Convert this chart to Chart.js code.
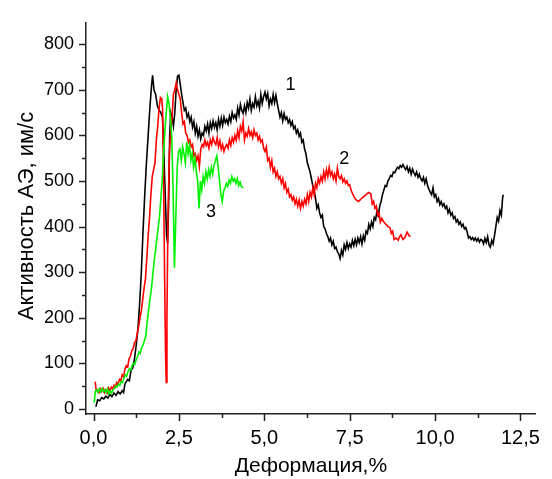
<!DOCTYPE html>
<html>
<head>
<meta charset="utf-8">
<script src="https://cdn.jsdelivr.net/npm/chart.js@4/dist/chart.umd.min.js"></script>
<style>
html,body{margin:0;padding:0;background:#fff;}
#wrap{width:552px;height:479px;position:relative;}
</style>
</head>
<body>
<div id="wrap"><canvas id="c" width="552" height="479"></canvas></div>
<script>
// ---- Data ----
const xMajorTicks = [0, 2.5, 5, 7.5, 10, 12.5];
const xMinorTicks = [1.25, 3.75, 6.25, 8.75, 11.25];
const yMajorTicks = [0, 100, 200, 300, 400, 500, 600, 700, 800];
const yMinorTicks = [50, 150, 250, 350, 450, 550, 650, 750];

const xTitle = 'Деформация,%';
const yTitle = 'Активность АЭ, им/с';

const curveLabels = ["1", "2", "3"];
const curveLabelX = [5.77, 7.34, 3.44];
const curveLabelY = [710, 548, 432];

// Curve 1 (black)
const blackX = [0.07,0.12,0.18,0.24,0.30,0.36,0.42,0.48,0.54,0.60,0.66,0.72,0.78,0.84,0.88,0.92,0.96,1.00,1.05,1.10,1.15,1.20,1.25,1.30,1.35,1.40,1.45,1.50,1.55,1.60,1.65,1.70,1.73,1.77,1.82,1.87,1.92,1.97,2.02,2.06,2.10,2.14,2.17,2.20,2.23,2.26,2.30,2.34,2.38,2.42,2.46,2.50,2.54,2.58,2.62,2.66,2.70,2.74,2.78,2.82,2.86,2.90,2.94,2.98,3.02,3.06,3.10,3.14,3.18,3.22,3.26,3.30,3.34,3.38,3.42,3.46,3.50,3.54,3.58,3.62,3.66,3.70,3.74,3.78,3.82,3.86,3.90,3.94,3.98,4.02,4.06,4.10,4.14,4.18,4.22,4.26,4.30,4.34,4.38,4.42,4.46,4.50,4.54,4.58,4.62,4.66,4.70,4.74,4.78,4.82,4.86,4.90,4.94,4.98,5.02,5.06,5.10,5.14,5.18,5.22,5.26,5.30,5.34,5.38,5.42,5.46,5.50,5.54,5.58,5.62,5.66,5.70,5.74,5.78,5.82,5.86,5.90,5.94,5.98,6.02,6.06,6.10,6.14,6.18,6.22,6.26,6.30,6.34,6.38,6.42,6.46,6.50,6.54,6.58,6.62,6.66,6.70,6.74,6.78,6.82,6.86,6.90,6.94,6.98,7.02,7.06,7.10,7.14,7.18,7.22,7.26,7.30,7.34,7.38,7.42,7.46,7.50,7.54,7.58,7.62,7.66,7.70,7.74,7.78,7.82,7.86,7.90,7.94,7.98,8.02,8.06,8.10,8.14,8.18,8.22,8.26,8.30,8.34,8.38,8.42,8.46,8.50,8.54,8.58,8.62,8.66,8.70,8.74,8.78,8.82,8.86,8.90,8.94,8.98,9.02,9.06,9.10,9.14,9.18,9.22,9.26,9.30,9.34,9.38,9.42,9.46,9.50,9.54,9.58,9.62,9.66,9.70,9.74,9.78,9.82,9.86,9.90,9.94,9.98,10.02,10.06,10.10,10.14,10.18,10.22,10.26,10.30,10.34,10.38,10.42,10.46,10.50,10.54,10.58,10.62,10.66,10.70,10.74,10.78,10.82,10.86,10.90,10.94,10.98,11.02,11.06,11.10,11.14,11.18,11.22,11.26,11.30,11.34,11.38,11.42,11.46,11.50,11.54,11.58,11.62,11.66,11.70,11.74,11.78,11.82,11.86,11.90,11.94,11.98,12.00];
const blackY = [5,20,18,25,22,28,24,32,27,35,30,38,33,40,36,55,60,65,62,85,90,110,140,175,230,300,390,470,540,600,660,710,732,700,690,665,655,650,640,560,470,380,363,450,600,650,640,620,650,700,730,732,712,690,672,655,660,640,648,630,640,618,630,605,620,598,612,592,605,600,620,610,625,605,628,615,632,618,628,612,635,620,638,622,640,628,635,625,642,630,650,638,645,635,660,645,668,655,648,665,650,672,660,680,655,670,662,685,665,675,660,690,670,685,695,680,692,665,680,670,690,672,688,670,655,640,650,632,648,635,640,628,635,622,630,615,620,605,612,598,605,585,590,570,560,540,530,520,505,490,480,462,440,448,430,420,425,400,395,385,378,368,375,360,368,352,355,345,340,330,348,338,360,350,365,352,362,355,370,358,372,360,375,365,378,362,380,370,390,385,405,395,410,400,420,415,435,425,445,455,470,480,490,488,500,505,512,510,520,518,525,530,527,534,530,536,530,525,532,520,528,515,526,518,512,520,508,515,505,500,508,495,505,490,482,475,470,485,465,470,455,462,448,455,445,450,440,445,430,438,425,430,418,422,410,415,405,410,400,405,395,398,388,375,378,372,376,370,375,368,374,366,372,370,362,374,365,378,360,355,370,362,380,400,420,412,435,425,465,470];

// Curve 2 (red)
const redX = [0.05,0.08,0.12,0.16,0.20,0.24,0.28,0.32,0.36,0.40,0.44,0.48,0.52,0.56,0.60,0.64,0.68,0.72,0.76,0.80,0.84,0.88,0.92,0.96,1.00,1.04,1.08,1.12,1.16,1.20,1.24,1.28,1.32,1.36,1.40,1.44,1.48,1.52,1.56,1.60,1.64,1.68,1.72,1.76,1.80,1.84,1.88,1.92,1.96,2.00,2.02,2.05,2.08,2.11,2.13,2.15,2.18,2.22,2.26,2.30,2.34,2.38,2.42,2.46,2.50,2.54,2.58,2.62,2.66,2.70,2.74,2.78,2.82,2.86,2.90,2.94,2.98,3.02,3.06,3.10,3.14,3.18,3.22,3.26,3.30,3.34,3.38,3.42,3.46,3.50,3.54,3.58,3.62,3.66,3.70,3.74,3.78,3.82,3.86,3.90,3.94,3.98,4.02,4.06,4.10,4.14,4.18,4.22,4.26,4.30,4.34,4.38,4.42,4.46,4.50,4.54,4.58,4.62,4.66,4.70,4.74,4.78,4.82,4.86,4.90,4.94,4.98,5.02,5.06,5.10,5.14,5.18,5.22,5.26,5.30,5.34,5.38,5.42,5.46,5.50,5.54,5.58,5.62,5.66,5.70,5.74,5.78,5.82,5.86,5.90,5.94,5.98,6.02,6.06,6.10,6.14,6.18,6.22,6.26,6.30,6.34,6.38,6.42,6.46,6.50,6.54,6.58,6.62,6.66,6.70,6.74,6.78,6.82,6.86,6.90,6.94,6.98,7.02,7.06,7.10,7.14,7.18,7.22,7.26,7.30,7.34,7.38,7.42,7.46,7.50,7.55,7.60,7.65,7.70,7.76,7.85,7.95,8.05,8.12,8.16,8.20,8.24,8.28,8.32,8.36,8.40,8.44,8.50,8.56,8.62,8.68,8.72,8.76,8.80,8.86,8.92,8.96,9.00,9.06,9.12,9.18,9.24,9.28];
const redY = [60,40,42,36,44,38,45,36,42,35,46,40,48,44,52,48,58,55,65,62,75,70,88,95,92,110,115,128,132,145,150,165,180,200,215,240,265,285,330,380,420,470,510,525,540,590,620,660,683,680,660,520,300,120,58,200,420,560,610,640,690,700,715,700,690,680,650,625,630,605,600,585,590,575,580,555,560,545,555,532,570,580,575,590,578,585,572,590,580,595,585,580,595,575,588,570,580,565,575,580,572,590,578,595,585,600,590,610,595,620,610,630,590,605,598,615,600,608,595,612,600,605,590,598,585,590,572,565,575,545,550,530,545,520,528,510,520,505,510,495,505,485,495,475,482,465,470,458,465,450,460,445,458,440,455,445,460,450,470,455,475,465,485,470,495,485,505,495,510,500,520,505,525,510,530,512,520,505,515,500,528,510,505,512,498,505,495,500,490,492,478,470,462,458,455,462,468,475,472,450,455,440,445,425,430,410,418,410,405,400,398,385,390,372,375,370,378,382,372,376,388,380,378];

// Curve 3 (green)
const greenX = [0.02,0.05,0.09,0.13,0.17,0.21,0.25,0.29,0.33,0.37,0.41,0.45,0.49,0.53,0.57,0.61,0.65,0.69,0.73,0.77,0.81,0.85,0.89,0.93,0.97,1.01,1.05,1.09,1.13,1.17,1.21,1.25,1.29,1.33,1.37,1.41,1.45,1.49,1.53,1.57,1.61,1.65,1.69,1.73,1.77,1.81,1.85,1.89,1.93,1.97,2.01,2.05,2.09,2.13,2.17,2.21,2.25,2.29,2.33,2.37,2.41,2.45,2.49,2.53,2.57,2.61,2.65,2.69,2.73,2.77,2.81,2.85,2.89,2.93,2.97,3.01,3.05,3.09,3.13,3.17,3.21,3.25,3.29,3.33,3.37,3.41,3.45,3.49,3.53,3.57,3.61,3.65,3.69,3.73,3.77,3.81,3.85,3.89,3.93,3.97,4.01,4.05,4.09,4.13,4.17,4.21,4.25,4.29,4.33,4.38];
const greenY = [14,38,42,36,44,38,45,38,42,36,44,33,40,35,42,45,50,48,55,52,60,58,68,75,72,82,88,85,95,100,98,108,115,125,122,135,140,150,160,190,215,240,260,290,320,345,370,395,420,460,500,560,610,650,685,670,640,600,480,310,420,530,565,570,545,575,560,540,585,560,578,545,560,530,550,520,500,440,500,480,510,495,520,505,525,510,530,515,535,545,555,530,500,470,455,478,485,495,488,502,495,510,500,505,495,505,490,498,488,485];

const toPts = (xs, ys) => xs.map((x, i) => ({x: x, y: ys[i]}));

const FONT = "'Liberation Sans', Arial, sans-serif";
const AXIS_COLOR = '#222';

const ticksPlugin = {
  id: 'customTicks',
  afterDraw(chart) {
    const ctx = chart.ctx;
    const xs = chart.scales.x, ys = chart.scales.y;
    const area = chart.chartArea;
    ctx.save();
    ctx.strokeStyle = AXIS_COLOR;
    ctx.lineWidth = 1.5;
    ctx.beginPath();
    xMajorTicks.forEach(v => { const p = Math.round(xs.getPixelForValue(v)) + 0.5; ctx.moveTo(p, area.bottom); ctx.lineTo(p, area.bottom + 7); });
    xMinorTicks.forEach(v => { const p = Math.round(xs.getPixelForValue(v)) + 0.5; ctx.moveTo(p, area.bottom); ctx.lineTo(p, area.bottom + 4); });
    yMajorTicks.forEach(v => { const p = Math.round(ys.getPixelForValue(v)) + 0.5; ctx.moveTo(area.left, p); ctx.lineTo(area.left - 7, p); });
    yMinorTicks.forEach(v => { const p = Math.round(ys.getPixelForValue(v)) + 0.5; ctx.moveTo(area.left, p); ctx.lineTo(area.left - 4, p); });
    ctx.stroke();
    // curve labels
    ctx.fillStyle = '#000';
    ctx.font = '18px ' + FONT;
    ctx.textAlign = 'center';
    ctx.textBaseline = 'middle';
    curveLabels.forEach((t, i) => {
      ctx.fillText(t, xs.getPixelForValue(curveLabelX[i]), ys.getPixelForValue(curveLabelY[i]));
    });
    // y axis title
    ctx.save();
    ctx.translate(33, 216);
    ctx.rotate(-Math.PI / 2);
    ctx.font = '22px ' + FONT;
    ctx.textAlign = 'center';
    ctx.textBaseline = 'alphabetic';
    ctx.fillText(yTitle, 0, 0);
    ctx.restore();
    ctx.restore();
  }
};

new Chart(document.getElementById('c'), {
  type: 'line',
  data: {
    datasets: [
      {label: '3', data: toPts(greenX, greenY), borderColor: '#00f000', borderWidth: 1.6, pointRadius: 0, tension: 0, fill: false},
      {label: '2', data: toPts(redX, redY), borderColor: '#ff0000', borderWidth: 1.6, pointRadius: 0, tension: 0, fill: false},
      {label: '1', data: toPts(blackX, blackY), borderColor: '#000000', borderWidth: 1.6, pointRadius: 0, tension: 0, fill: false}
    ]
  },
  options: {
    responsive: false,
    animation: false,
    events: [],
    layout: {padding: {top: 13, right: 3, left: 0, bottom: 0}},
    plugins: {legend: {display: false}, tooltip: {enabled: false}},
    scales: {
      x: {
        type: 'linear',
        min: -0.22,
        max: 12.95,
        afterBuildTicks: s => { s.ticks = xMajorTicks.map(v => ({value: v})); },
        afterFit: s => { s.height = 65; },
        grid: {display: false, drawTicks: false},
        border: {display: true, color: AXIS_COLOR, width: 1.5},
        ticks: {
          color: '#000',
          font: {family: FONT, size: 20},
          padding: 12,
          maxRotation: 0,
          autoSkip: false,
          callback: v => Number(v).toFixed(1).replace('.', ',')
        },
        title: {display: true, text: xTitle, color: '#000', font: {family: FONT, size: 21}, padding: {top: 0, bottom: 0}}
      },
      y: {
        type: 'linear',
        min: -11,
        max: 847,
        afterBuildTicks: s => { s.ticks = yMajorTicks.map(v => ({value: v})); },
        afterFit: s => { s.width = 86; },
        grid: {display: false, drawTicks: false},
        border: {display: true, color: AXIS_COLOR, width: 1.5},
        ticks: {
          color: '#000',
          font: {family: FONT, size: 18},
          padding: 12,
          autoSkip: false,
          callback: v => String(v)
        },
        title: {display: false}
      }
    }
  },
  plugins: [ticksPlugin]
});
</script>
</body>
</html>
